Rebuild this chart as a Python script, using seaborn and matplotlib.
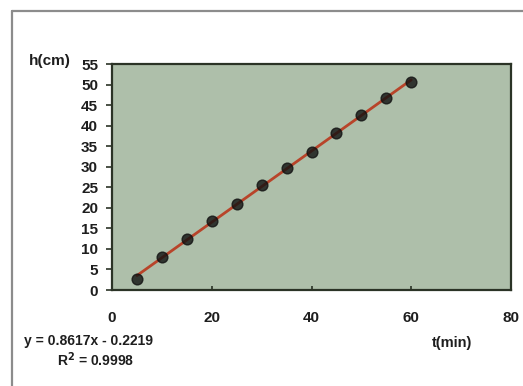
import matplotlib
matplotlib.use("Agg")
import matplotlib.pyplot as plt
from matplotlib.lines import Line2D
import seaborn as sns
import pandas as pd

# data
t_min = [5, 10, 15, 20, 25, 30, 35, 40, 45, 50, 55, 60]
h_cm = [2.7, 8.0, 12.4, 16.7, 21.0, 25.5, 29.6, 33.7, 38.3, 42.5, 46.8, 50.7]
x_ticks = [0, 20, 40, 60, 80]
y_ticks = [0, 5, 10, 15, 20, 25, 30, 35, 40, 45, 50, 55]
eq_text = "y = 0.8617x - 0.2219"
r2_text = "R$^2$ = 0.9998"

df = pd.DataFrame({"t": t_min, "h": h_cm})

sns.set_theme(style="white")
plt.rcParams["font.family"] = ["Liberation Sans", "DejaVu Sans"]
plt.rcParams["font.weight"] = "bold"

fig = plt.figure(figsize=(5.23, 3.86), dpi=100)
fig.patch.set_facecolor("white")
ax = fig.add_axes([112 / 523, 1 - 290 / 386, (511 - 112) / 523, (290 - 64) / 386])
ax.set_facecolor("#aebfaa")

sns.regplot(data=df, x="t", y="h", ax=ax, ci=None, truncate=True,
            scatter_kws=dict(s=60, color="#111111", edgecolor="#111111", zorder=3),
            line_kws=dict(color="#b8442a", lw=2.0, zorder=2))

ax.set_xlim(0, 80)
ax.set_ylim(0, 55)
ax.set_xticks(x_ticks)
ax.set_yticks(y_ticks)
ax.set_xticklabels([str(v) for v in x_ticks], fontsize=11, fontweight="bold", color="#1e1e1e")
ax.set_yticklabels([str(v) for v in y_ticks], fontsize=11, fontweight="bold", color="#1e1e1e")
ax.tick_params(axis="x", direction="in", length=3, width=1.2, color="#2b3326", pad=15, bottom=True)
ax.tick_params(axis="y", direction="out", length=4, width=1.2, color="#2b3326", pad=6, left=True)
ax.set_xlabel("")
ax.set_ylabel("")
for s in ax.spines.values():
    s.set_visible(True)
    s.set_color("#2b3326")
    s.set_linewidth(1.6)

fig.text(29 / 523, 1 - 61 / 386, "h(cm)", fontsize=11, fontweight="bold",
         color="#1e1e1e", ha="left", va="center")
fig.text(452 / 523, 1 - 343 / 386, "t(min)", fontsize=10.5, fontweight="bold",
         color="#1e1e1e", ha="center", va="center")
fig.text(24 / 523, 1 - 341 / 386, eq_text, fontsize=10, fontweight="bold",
         color="#1e1e1e", ha="left", va="center")
fig.text(57 / 523, 1 - 360 / 386, r2_text, fontsize=10, fontweight="bold",
         color="#1e1e1e", ha="left", va="center")

# outer chart frame
fig.add_artist(Line2D([12 / 523, 12 / 523], [0, 1 - 11 / 386], color="#8c8c8c", lw=1.6))
fig.add_artist(Line2D([12 / 523, 1], [1 - 11 / 386, 1 - 11 / 386], color="#8c8c8c", lw=1.6))

fig.savefig("out.png", dpi=100, facecolor="white")
